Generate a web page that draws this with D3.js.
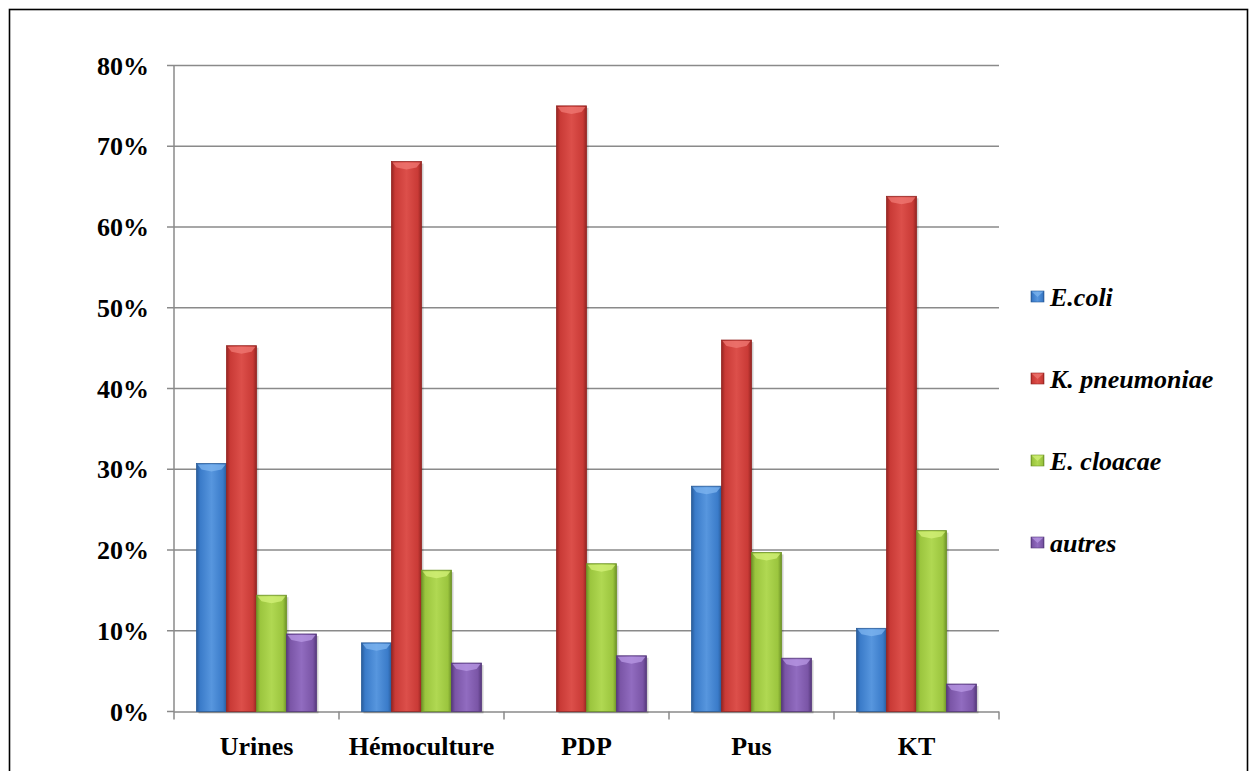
<!DOCTYPE html>
<html>
<head>
<meta charset="utf-8">
<script src="https://cdn.jsdelivr.net/npm/d3@7"></script>
<style>
  html, body { margin: 0; padding: 0; background: #fff; }
  svg { display: block; }
  .lbl { font-family: "Liberation Serif"; font-weight: bold; font-size: 26px; fill: #000; }
  .it { font-style: italic; }
</style>
</head>
<body>
<svg id="chart" width="1249" height="771"></svg>
<script>
// Sample types along the x axis
const categories = ["Urines", "Hémoculture", "PDP", "Pus", "KT"];
// Species shown in the legend
const seriesNames = ["E.coli", "K. pneumoniae", "E. cloacae", "autres"];
// Share of each species per sample type (%)
const ecoli      = [30.7,  8.5,  0.0, 27.9, 10.3];
const kpneumo    = [45.3, 68.1, 75.0, 46.0, 63.8];
const ecloacae   = [14.4, 17.5, 18.3, 19.7, 22.4];
const autres     = [ 9.6,  6.0,  6.9,  6.6,  3.4];
const yTicks     = [0, 10, 20, 30, 40, 50, 60, 70, 80];

const seriesValues = [ecoli, kpneumo, ecloacae, autres];
const colors = [
  { base: "#3a7bc9", light: "#5796de", dark: "#2a5c9a", bevel: "#7fb6f0" },
  { base: "#c93a36", light: "#dc4f4a", dark: "#942522", bevel: "#f07a74" },
  { base: "#9bc53e", light: "#b0d852", dark: "#6e9327", bevel: "#d4f27a" },
  { base: "#7a55a6", light: "#916cc0", dark: "#56397c", bevel: "#b99ae6" }
];

const svg = d3.select("#chart");
const defs = svg.append("defs");

// Outer frame
svg.append("rect")
  .attr("x", 9.5).attr("y", 9.5)
  .attr("width", 1238).attr("height", 800)
  .attr("fill", "none").attr("stroke", "#000").attr("stroke-width", 1.6);

const plot = { left: 174, right: 999, top: 65.5, bottom: 711.5 };

const x = d3.scaleBand().domain(categories).range([plot.left, plot.right]).paddingInner(0).paddingOuter(0);
const xs = d3.scaleBand().domain(seriesNames).range([0, x.bandwidth()]).paddingInner(0).paddingOuter(0.75);
const y = d3.scaleLinear().domain([0, 80]).range([plot.bottom, plot.top]);

// Horizontal gradients giving the rounded bar look
colors.forEach((c, i) => {
  const g = defs.append("linearGradient").attr("id", "grad" + i)
    .attr("x1", "0%").attr("x2", "100%").attr("y1", "0%").attr("y2", "0%");
  g.append("stop").attr("offset", "0%").attr("stop-color", c.dark);
  g.append("stop").attr("offset", "12%").attr("stop-color", c.base);
  g.append("stop").attr("offset", "50%").attr("stop-color", c.light);
  g.append("stop").attr("offset", "88%").attr("stop-color", c.base);
  g.append("stop").attr("offset", "100%").attr("stop-color", c.dark);
});

// Gridlines
svg.append("g").selectAll("line").data(yTicks.slice(1)).join("line")
  .attr("x1", plot.left).attr("x2", plot.right)
  .attr("y1", d => y(d)).attr("y2", d => y(d))
  .attr("stroke", "#8a8a8a").attr("stroke-width", 1.5);

// Y axis: line and ticks
svg.append("line")
  .attr("x1", plot.left).attr("x2", plot.left)
  .attr("y1", plot.top).attr("y2", plot.bottom)
  .attr("stroke", "#8a8a8a").attr("stroke-width", 1.5);
svg.append("g").selectAll("line").data(yTicks).join("line")
  .attr("x1", plot.left - 7).attr("x2", plot.left)
  .attr("y1", d => y(d)).attr("y2", d => y(d))
  .attr("stroke", "#8a8a8a").attr("stroke-width", 1.5);
svg.append("g").selectAll("text").data(yTicks).join("text")
  .attr("class", "lbl")
  .attr("x", plot.left - 25)
  .attr("y", d => y(d) + 9)
  .attr("text-anchor", "end")
  .text(d => d + "%");

// X axis line with boundary ticks
const boundaries = categories.map(c => x(c)).concat([plot.right]);
svg.append("line")
  .attr("x1", plot.left).attr("x2", plot.right)
  .attr("y1", plot.bottom + 0.5).attr("y2", plot.bottom + 0.5)
  .attr("stroke", "#8a8a8a").attr("stroke-width", 1.5);
svg.append("g").selectAll("line").data(boundaries).join("line")
  .attr("x1", d => d).attr("x2", d => d)
  .attr("y1", plot.bottom).attr("y2", plot.bottom + 8)
  .attr("stroke", "#8a8a8a").attr("stroke-width", 1.5);
svg.append("g").selectAll("text").data(categories).join("text")
  .attr("class", "lbl")
  .attr("x", d => x(d) + x.bandwidth() / 2)
  .attr("y", 755)
  .attr("text-anchor", "middle")
  .text(d => d);

// Bars
const barData = [];
categories.forEach((cat, ci) => {
  seriesNames.forEach((s, si) => {
    barData.push({ cat, s, si, v: seriesValues[si][ci] });
  });
});

const bars = svg.append("g").selectAll("g").data(barData.filter(d => d.v > 0)).join("g");
// Soft shadow to the lower right
bars.append("rect")
  .attr("x", d => x(d.cat) + xs(d.s) + 2)
  .attr("y", d => y(d.v) + 2)
  .attr("width", xs.bandwidth())
  .attr("height", d => y(0) - y(d.v))
  .attr("fill", "#000").attr("opacity", 0.18);
bars.append("rect")
  .attr("x", d => x(d.cat) + xs(d.s))
  .attr("y", d => y(d.v))
  .attr("width", xs.bandwidth())
  .attr("height", d => y(0) - y(d.v))
  .attr("fill", d => `url(#grad${d.si})`)
  .attr("stroke", d => colors[d.si].dark)
  .attr("stroke-width", 0.8);
// Bevelled top
bars.append("path")
  .attr("d", d => {
    const x0 = x(d.cat) + xs(d.s) + 1, x1 = x0 + xs.bandwidth() - 2, y0 = y(d.v) + 1;
    const xc = (x0 + x1) / 2;
    return `M${x0},${y0}L${x1},${y0}L${x1 - 4},${y0 + 5}L${xc},${y0 + 7}L${x0 + 4},${y0 + 5}Z`;
  })
  .attr("fill", d => colors[d.si].bevel)
  .attr("opacity", 0.75);

// Legend
const legend = svg.append("g").selectAll("g").data(seriesNames).join("g")
  .attr("transform", (d, i) => `translate(1031, ${297 + i * 82})`);
legend.append("rect")
  .attr("x", 0).attr("y", -6).attr("width", 13).attr("height", 11)
  .attr("fill", (d, i) => `url(#grad${i})`)
  .attr("stroke", (d, i) => colors[i].dark).attr("stroke-width", 0.6);
legend.append("path")
  .attr("d", "M0.5,-5.5L12.5,-5.5L6.5,0Z")
  .attr("fill", (d, i) => colors[i].bevel).attr("opacity", 0.7);
legend.append("text")
  .attr("class", "lbl it")
  .attr("x", 19).attr("y", 9)
  .text(d => d);
</script>
</body>
</html>
